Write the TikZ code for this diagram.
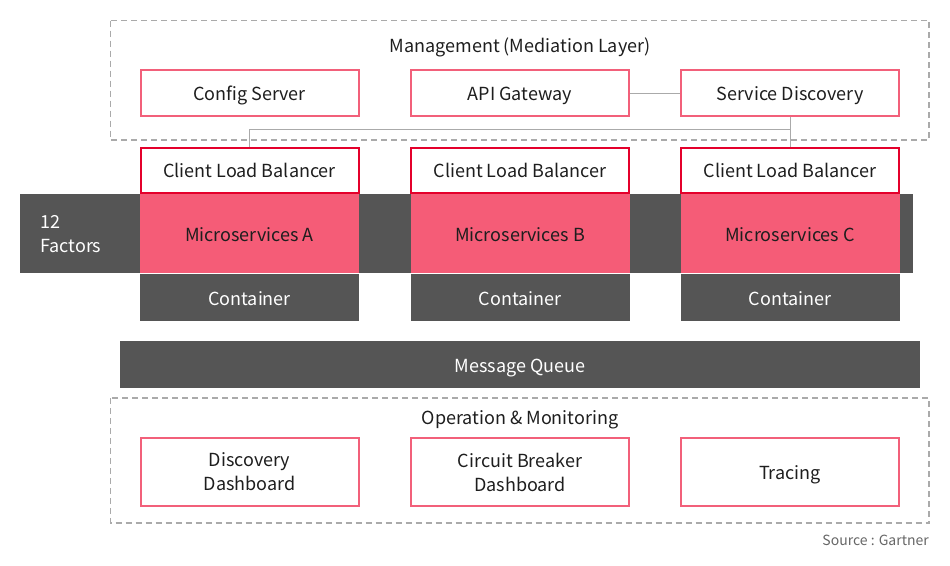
\documentclass[tikz,border=0pt]{standalone}
\usepackage{fontspec}
\setmainfont{Noto Sans CJK KR}
\definecolor{pinkline}{HTML}{F2607A}
\definecolor{redline}{HTML}{E4002B}
\definecolor{pinkfill}{HTML}{F55C77}
\definecolor{darkbox}{HTML}{555555}
\definecolor{dashgray}{HTML}{AAAAAA}
\definecolor{inkgray}{HTML}{1E1E1E}
\newcommand{\boxfont}{\fontsize{18}{24}\selectfont}
\tikzset{
  every node/.style={font=\boxfont, text=inkgray, inner sep=0pt},
  oneline/.style={text height=16pt, text depth=1pt},
  pinkbox/.style={draw=pinkline, line width=2pt, fill=white, minimum width=218pt, minimum height=46pt, align=center},
  balancer/.style={draw=redline, line width=2pt, fill=white, minimum width=218pt, minimum height=45pt, oneline},
  service/.style={fill=pinkfill, minimum width=219pt, minimum height=79pt, oneline},
  darkbar/.style={fill=darkbox, text=white, oneline},
  layer/.style={draw=dashgray, line width=1.8pt, dash pattern=on 6pt off 4pt},
  link/.style={draw=dashgray, line width=1pt}
}
\begin{document}
\begin{tikzpicture}[x=1pt,y=-1pt]
  \useasboundingbox (0,0) rectangle (950,565);

  % dashed layers
  \draw[layer] (110.5,20.5) rectangle (929,140);
  \draw[layer] (110.5,398) rectangle (929,523);
  \node[oneline] (mgmt) at (520,45) {Management (Mediation Layer)};
  \node[oneline] (ops) at (520,417) {Operation \& Monitoring};

  % management components
  \node[pinkbox, oneline] (config) at (249.5,93) {Config Server};
  \node[pinkbox, oneline] (gateway) at (520,93) {API Gateway};
  \node[pinkbox, oneline] (discovery) at (790,93) {Service Discovery};

  % 12 factors band
  \node[darkbar, minimum width=893pt, minimum height=79pt] (band) at (466.5,233.5) {};
  \node[text=white, anchor=west, align=left] (factors) at (40,234.5) {12\\Factors};

  % services
  \foreach \name/\xpos/\label in {A/249.5/A, B/520/B, C/790/C} {
    \node[balancer] (clb\name) at (\xpos,170) {Client Load Balancer};
    \node[service] (ms\name) at (\xpos,233.5) {Microservices \label};
    \node[darkbar, minimum width=219pt, minimum height=47pt] (ct\name) at (\xpos,297.5) {Container};
  }

  \node[darkbar, minimum width=800pt, minimum height=47pt] (queue) at (520,364.5) {Message Queue};

  % monitoring components
  \node[pinkbox, minimum height=68pt] (dashA) at (249.5,472) {Discovery\\Dashboard};
  \node[pinkbox, minimum height=68pt] (dashB) at (520,472) {Circuit Breaker\\Dashboard};
  \node[pinkbox, minimum height=68pt, oneline] (tracing) at (790,471.5) {Tracing};

  \node[anchor=east, font=\fontsize{14}{16}\selectfont, text=darkbox!90!white] (source) at (929,540) {Source : Gartner};

  % connectors
  \coordinate (bus) at (790,129);
  \draw[link] (gateway.east) -- (discovery.west);
  \draw[link] (discovery.south) -- (clbC.north);
  \draw[link] (clbA.north) |- (bus);
\end{tikzpicture}
\end{document}
